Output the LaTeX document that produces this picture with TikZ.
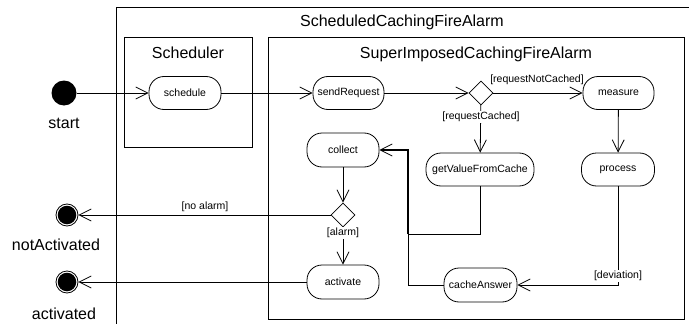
\documentclass[tikz,border=0pt]{standalone}
\usepackage{fontspec}
\setmainfont{Liberation Sans}
\usetikzlibrary{arrows.meta,shapes.geometric}

\begin{document}
\begin{tikzpicture}[x=1pt,y=-1pt,
  line width=0.8pt,
  action/.style={draw, rounded corners=15pt, minimum height=33pt,
    inner sep=0pt, font=\fontsize{10.5}{12}\selectfont},
  decision/.style={draw, diamond, minimum width=24pt, minimum height=24pt,
    inner sep=0pt},
  flow/.style={-{Straight Barb[length=12pt,width=12pt,line width=0.8pt]}},
  guard/.style={font=\fontsize{10.5}{12}\selectfont, inner sep=1pt},
  title/.style={font=\fontsize{16}{19}\selectfont, anchor=base, inner sep=0pt},
  initial/.style={circle, fill=black, minimum size=25pt, inner sep=0pt},
  final/.style={circle, draw, minimum size=22pt, inner sep=0pt,
    path picture={\fill (path picture bounding box.center) circle (9.3pt);}},
]
\useasboundingbox (0,0) rectangle (689,324);

% activity frames
\draw (116,324) -- (116,7) -- (689,7);
\draw (124,37) rectangle (252,147);
\draw (268,37) rectangle (684,319);
\node[title] (tOuter) at (402,27) {ScheduledCachingFireAlarm};
\node[title] (tSched) at (188,58) {Scheduler};
\node[title] (tSuper) at (476,58) {SuperImposedCachingFireAlarm};

% initial and final nodes
\node[initial] (start) at (64,93) {};
\node[title] (lStart) at (64,128) {start};
\node[final] (notAct) at (67,215) {};
\node[title] (lNotAct) at (56,250) {notActivated};
\node[final] (actd) at (67,282) {};
\node[title] (lActd) at (64,319) {activated};

% actions
\node[action, minimum width=72pt] (schedule) at (185,93) {schedule};
\node[action, minimum width=71pt] (sendReq) at (348.5,93) {sendRequest};
\node[decision] (dec1) at (481,93) {};
\node[action, minimum width=71pt] (measure) at (618.5,93) {measure};
\node[action, minimum width=72pt, minimum height=34pt] (collect) at (343,150) {collect};
\node[action, minimum width=108pt] (gvc) at (480,169.5) {getValueFromCache};
\node[action, minimum width=73pt] (process) at (618,169.5) {process};
\node[decision] (dec2) at (343,215) {};
\node[action, minimum width=72pt, minimum height=34pt] (activate) at (343,282) {activate};
\node[action, minimum width=73pt, minimum height=34pt] (cache) at (480.5,285) {cacheAnswer};

% merge points in front of collect
\coordinate (jA) at (408,234);
\coordinate (jT) at (408,150);

% control flows
\draw[flow] (start) -- (schedule);
\draw[flow] (schedule) -- (sendReq);
\draw[flow] (sendReq) -- (dec1);
\draw[flow] (dec1) -- (measure);
\draw[flow] (dec1) -- (gvc);
\draw[flow] (measure) -- (process);
\draw[flow] (process.south) |- (cache.east);
\draw (gvc.south) |- (jA);
\draw (cache.west) -| (jA);
\draw[flow, line width=1.3pt] (jA) -- (jT) -- (collect.east);
\draw[flow] (collect) -- (dec2);
\draw[flow] (dec2) -- (activate);
\draw[flow] (dec2) -- (notAct);
\draw[flow] (activate) -- (actd);

% guards
\node[guard, anchor=base] (gNotCached) at (537,82) {[requestNotCached]};
\node[guard, fill=white] (gCached) at (481,117) {[requestCached]};
\node[guard, anchor=base] (gNoAlarm) at (205,209) {[no alarm]};
\node[guard, fill=white] (gAlarm) at (343,233) {[alarm]};
\node[guard, fill=white] (gDev) at (618,276) {[deviation]};
\end{tikzpicture}
\end{document}
